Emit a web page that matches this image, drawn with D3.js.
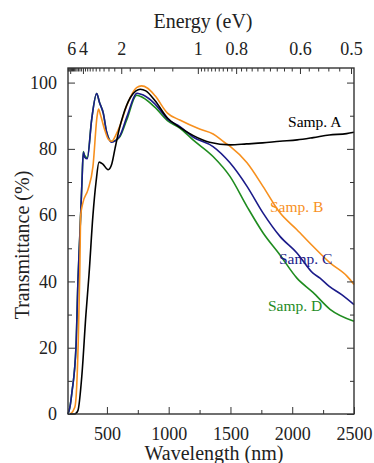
<!DOCTYPE html>
<html>
<head>
<meta charset="utf-8">
<script src="https://cdn.jsdelivr.net/npm/d3@7"></script>
<style>
  body { margin: 0; background: #fff; }
</style>
</head>
<body>
<div id="chart"></div>
<script>
const WIDTH = 374
const HEIGHT = 463
const margin = { top: 68, right: 20, bottom: 49, left: 68 }
const FONT = '"Liberation Serif", "Times New Roman", Times, "DejaVu Serif", serif'

// wavelength (nm), transmittance (%)
const sampA = [[200,0],[240,0],[265,1],[298,12],[330,30],[355,42],[387,60],[412,70],[436,76],[465,75.5],[510,73.7],[540,75.5],[565,80],[600,86],[630,90],[690,95.5],[735,97.5],[770,98],[815,97.5],[890,94.5],[990,89.3],[1090,86.5],[1200,84],[1330,82],[1500,81.2],[1630,81.5],[1760,81.8],[1900,82.3],[2040,82.7],[2170,83.4],[2300,84.2],[2440,84.6],[2500,85]]
const sampB = [[205,0],[240,2],[255,8],[268,22],[280,42],[288,60],[306,63.8],[347,67.7],[387,74.7],[420,89.7],[432,92],[450,90],[480,86],[510,83],[540,82.3],[570,84],[606,87],[660,93],[740,98.5],[780,99],[830,98.3],[890,96],[990,90.8],[1090,88.7],[1250,86],[1360,84.5],[1450,82],[1500,80.7],[1634,75.8],[1763,68.7],[1901,60.7],[2038,55.6],[2168,50.6],[2306,45.6],[2443,41.6],[2500,39.1]]
const sampC = [[185,0],[200,2],[217,6.6],[250,20.5],[266,40.6],[282,55],[298,70],[309,79],[320,77.5],[341,77],[377,89],[417,96.7],[440,94],[471,90.7],[498,85],[539,82],[570,82.5],[606,84],[660,89.5],[745,96.8],[790,96.3],[890,93.5],[990,89],[1091,86.7],[1200,83.5],[1359,80.7],[1496,75.8],[1634,68.7],[1763,60.7],[1901,53.6],[2038,48.6],[2168,42.5],[2225,41],[2300,38.5],[2400,36],[2500,33]]
const sampD = [[185,0],[200,2],[217,6.6],[250,20.5],[266,40.6],[282,55],[298,70],[309,79.2],[320,78],[341,77.3],[377,89],[417,96.7],[440,94],[471,90.7],[498,85],[539,82.2],[570,82.5],[606,83.7],[660,88.7],[741,96.2],[790,95.5],[890,92.5],[990,88.5],[1090,86.3],[1197,82.7],[1359,77.7],[1496,71.7],[1634,62.6],[1763,54.7],[1901,48],[2038,41],[2168,36.7],[2306,31.6],[2500,28]]

const seriesNames = ['Samp. A', 'Samp. B', 'Samp. C', 'Samp. D']
const seriesColors = ['#000000', '#f7901e', '#1b1b8a', '#1f8c1f']
const labelPos = [[1966, 86.5], [1820, 61], [1893, 45.3], [1804, 31.1]]

const wlTicks = [500, 1000, 1500, 2000, 2500]
const wlMinor = [750, 1250, 1750, 2250]
const tTicks = [0, 20, 40, 60, 80, 100]
const tMinor = [10, 30, 50, 70, 90]
const eTicks = [6, 4, 2, 1, 0.8, 0.6, 0.5]
const eTickLabels = ['6', '4', '2', '1', '0.8', '0.6', '0.5']

window.onload = function () {
    const w = WIDTH - margin.left - margin.right
    const h = HEIGHT - margin.top - margin.bottom

    const svg = d3.select('#chart').append('svg')
        .attr('width', WIDTH).attr('height', HEIGHT)
        .attr('font-family', FONT)
    const g = svg.append('g').attr('transform', `translate(${margin.left},${margin.top})`)

    const x = d3.scaleLinear().domain([185, 2500]).range([0, w])
    const y = d3.scaleLinear().domain([0, 104.4]).range([h, 0])
    const ev = e => x(1240 / e)

    // minor energy ticks
    const eMinor = d3.range(6.6, 2.01, -0.2)
        .concat(d3.range(2, 1.01, -0.2))
        .concat(d3.range(1, 0.499, -0.02))
        .map(v => +v.toFixed(2))
        .filter(v => !eTicks.includes(v) && 1240 / v >= 185)

    // series
    const line = d3.line()
        .x(d => x(d[0]))
        .y(d => y(d[1]))
        .curve(d3.curveMonotoneX)

    const data = [sampA, sampB, sampC, sampD]
    const order = [3, 2, 1, 0]
    order.forEach(i => {
        g.append('path')
            .datum(data[i])
            .attr('d', line)
            .attr('fill', 'none')
            .attr('stroke', seriesColors[i])
            .attr('stroke-width', 1.6)
    })

    // frame
    g.append('rect')
        .attr('width', w).attr('height', h)
        .attr('fill', 'none').attr('stroke', '#333').attr('stroke-width', 1.4)

    // bottom axis
    g.append('g').attr('transform', `translate(0,${h})`)
        .call(d3.axisBottom(x).tickValues(wlTicks).tickFormat(d3.format('d')).tickSizeInner(-7).tickSizeOuter(0).tickPadding(13))
    g.append('g').attr('transform', `translate(0,${h})`)
        .call(d3.axisBottom(x).tickValues(wlMinor).tickSizeInner(-4).tickSizeOuter(0).tickFormat(''))

    // left axis
    g.append('g').call(d3.axisLeft(y).tickValues(tTicks).tickFormat(d3.format('d')).tickSizeInner(-7).tickSizeOuter(0).tickPadding(11))
    g.append('g').call(d3.axisLeft(y).tickValues(tMinor).tickSizeInner(-4).tickSizeOuter(0).tickFormat(''))

    // right axis
    g.append('g').attr('transform', `translate(${w},0)`)
        .call(d3.axisRight(y).tickValues(tTicks).tickSizeInner(-7).tickSizeOuter(0).tickFormat(''))
    g.append('g').attr('transform', `translate(${w},0)`)
        .call(d3.axisRight(y).tickValues(tMinor).tickSizeInner(-4).tickSizeOuter(0).tickFormat(''))

    // top axis (energy)
    const top = g.append('g')
    top.selectAll('line.maj').data(eTicks).enter().append('line')
        .attr('x1', d => ev(d)).attr('x2', d => ev(d))
        .attr('y1', 0).attr('y2', 6)
        .attr('stroke', '#333').attr('stroke-width', 1)
    top.selectAll('line.min').data(eMinor).enter().append('line')
        .attr('x1', d => ev(d)).attr('x2', d => ev(d))
        .attr('y1', 0).attr('y2', 3.5)
        .attr('stroke', '#333').attr('stroke-width', 1)
    top.selectAll('text').data(eTicks).enter().append('text')
        .attr('x', (d, i) => ev(d) + (i === 0 ? 1 : 0))
        .attr('y', -13)
        .attr('text-anchor', 'middle')
        .attr('font-size', 18)
        .attr('fill', '#222')
        .text((d, i) => eTickLabels[i])

    g.selectAll('.domain').remove()
    g.selectAll('g').attr('font-family', FONT)
    g.selectAll('.tick line').attr('stroke', '#333')
    g.selectAll('.tick text').attr('font-size', 18).attr('fill', '#222')

    // series labels
    seriesNames.forEach((name, i) => {
        g.append('text')
            .attr('x', x(labelPos[i][0]))
            .attr('y', y(labelPos[i][1]))
            .attr('font-size', 15.5)
            .attr('fill', seriesColors[i])
            .text(name)
    })

    // axis titles
    svg.append('text')
        .attr('x', 203).attr('y', 28)
        .attr('text-anchor', 'middle').attr('font-size', 20).attr('fill', '#222')
        .text('Energy (eV)')
    svg.append('text')
        .attr('x', 214).attr('y', 460)
        .attr('text-anchor', 'middle').attr('font-size', 20).attr('fill', '#222')
        .text('Wavelength (nm)')
    svg.append('text')
        .attr('transform', `translate(29,${margin.top + h / 2 + 4}) rotate(-90)`)
        .attr('text-anchor', 'middle').attr('font-size', 20).attr('fill', '#222')
        .text('Transmittance (%)')
}
</script>
</body>
</html>
